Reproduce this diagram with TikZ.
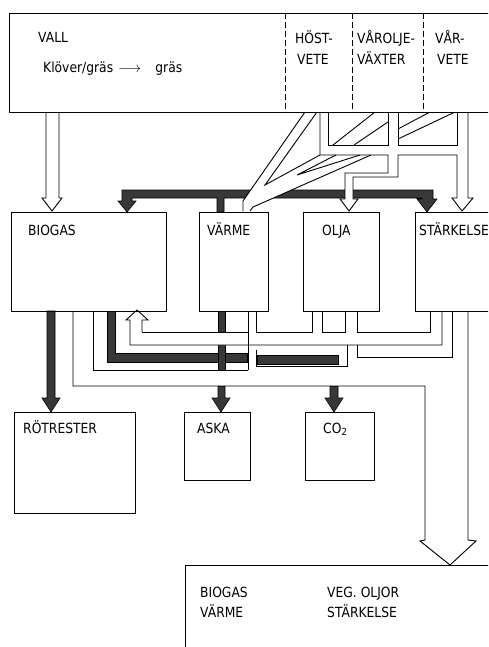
\documentclass[tikz,border=0pt]{standalone}
\usepackage{fontspec}
\setmainfont{DejaVu Sans}[FakeStretch=0.88]
\begin{document}
\begin{tikzpicture}[x=1pt,y=-1pt,
  bx/.style={draw=black,line width=0.9pt},
  ln/.style={draw=black,line width=0.9pt,line join=miter},
  blk/.style={fill=black!78,draw=black,line width=0.6pt},
  wf/.style={fill=white},
  lbl/.style={anchor=base west,inner sep=0pt,font=\fontsize{14}{16}\selectfont},
  dv/.style={draw=black,line width=0.9pt,dash pattern=on 6pt off 3pt}]
\useasboundingbox (0,0) rectangle (488,647);
\clip (0,0) rectangle (488,647);
\fill[white] (0,0) rectangle (488,647);

% ---------- black (heat / residue) pipes ----------
\filldraw[blk] (122,190)--(433,190)--(433,199)--(437,199)--(427,212)--(417,199)--(422,199)--(422,198)
  --(224,198)--(224,212)--(217,212)--(217,198)--(132,198)--(132,201)--(136,201)--(127,212)--(118,201)--(122,201)--cycle;
\filldraw[blk] (47,311)--(55,311)--(55,398)--(60,398)--(51,412)--(42,398)--(47,398)--cycle;
\filldraw[blk] (107,311)--(115,311)--(115,353)--(247,353)--(247,362)--(107,362)--cycle;
\filldraw[blk] (257,355)--(338,355)--(338,364)--(257,364)--cycle;
\filldraw[blk] (218,311)--(225,311)--(225,370)--(218,370)--cycle;
\filldraw[blk] (218,386)--(225,386)--(225,398)--(230,398)--(221,412)--(212,398)--(218,398)--cycle;
\filldraw[blk] (330,386)--(338,386)--(338,398)--(343,398)--(334,412)--(325,398)--(330,398)--cycle;

% ---------- hollow pipes: fills ----------
\fill[wf] (46,112)--(46,198)--(42,198)--(52,211)--(62,198)--(59,198)--(59,112)--cycle;
\fill[wf] (305,112)--(320,112)--(320,155)--(371,155)--(253,207)--(250,211)--(243,211)--(243,201)--cycle;
\fill[wf] (345,173)--(388,173)--(388,155)--(398,155)--(398,177)--(353,177)--(353,199)--(358,199)--(349,211)--(340,199)--(345,199)--cycle;
\fill[wf] (457,155)--(457,198)--(452,198)--(462,211)--(473,198)--(468,198)--(468,112)--(457,112)--cycle;
\fill[wf] (130,345)--(130,320)--(126,320)--(137,310)--(148,320)--(142,320)--(142,332)--(442,332)--(442,345)--cycle;
\fill[wf] (73,370)--(425,370)--(425,386)--(73,386)--cycle;

% ---------- hollow pipes: walls ----------
% VALL -> BIOGAS
\draw[ln] (46,112)--(46,198)--(42,198)--(52,211)--(62,198)--(59,198)--(59,112);
% fan of straw pipes into VAERME
\draw[ln] (305,112)--(243,201)--(243,211);
\draw[ln] (317,112)--(265,185)--(320,155);
\draw[ln] (336,155)--(297,175)--(360,155);
\draw[ln] (371,155)--(253,207)--(250,211);
% collector, OLJA and STAERKELSE feeds
\draw[ln] (320,112)--(320,155)--(388,155)--(388,173)--(345,173)--(345,199)--(340,199)--(349,211)--(358,199)--(353,199)
  --(353,177)--(398,177)--(398,155)--(457,155)--(457,198)--(452,198)--(462,211)--(473,198)--(468,198)--(468,112);
\draw[ln] (328,112)--(328,145)--(388,145)--(388,112);
\draw[ln] (398,112)--(398,145)--(457,145)--(457,112);
\draw[ln] (375,112)--(333,145);
\draw[ln] (388,122)--(354,145);
\draw[ln] (430,112)--(398,129);
\draw[ln] (455,112)--(398,139);
% return pipe into BIOGAS
\draw[ln] (142,332)--(142,320)--(148,320)--(137,310)--(126,320)--(130,320)--(130,345)--(442,345)--(442,311);
\draw[ln] (142,332)--(248,332);
\draw[ln] (248,311)--(248,370);
\draw[ln] (256,311)--(256,332)--(312,332)--(312,311);
\draw[ln] (322,311)--(322,332)--(345,332)--(345,311);
\draw[ln] (357,311)--(357,332)--(430,332)--(430,311);
\draw[ln] (256,350)--(256,366)--(347,366)--(347,345);
\draw[ln] (357,345)--(357,357)--(452,357)--(452,311);
% product pipe
\draw[ln] (93,311)--(93,370)--(248,370);
\draw[ln] (73,311)--(73,386)--(425,386)--(425,540)--(420,541)--(450,565)--(476,541)--(468,540)--(468,311);

% ---------- boxes ----------
\node[bx,fill=white,anchor=north west,minimum width=492pt,minimum height=99pt,inner sep=0pt] (vall) at (9,13) {};
\draw[dv] (285,13)--(285,112);
\draw[dv] (352,13)--(352,112);
\draw[dv] (423,13)--(423,112);
\node[bx,anchor=north west,minimum width=155pt,minimum height=99pt,inner sep=0pt] (biogas) at (11,212) {};
\node[bx,anchor=north west,minimum width=69pt,minimum height=99pt,inner sep=0pt] (varme) at (199,212) {};
\node[bx,anchor=north west,minimum width=76pt,minimum height=99pt,inner sep=0pt] (olja) at (303,212) {};
\node[bx,anchor=north west,minimum width=90pt,minimum height=99pt,inner sep=0pt] (stark) at (415,212) {};
\node[bx,anchor=north west,minimum width=121pt,minimum height=101pt,inner sep=0pt] (rot) at (14,412) {};
\node[bx,anchor=north west,minimum width=66pt,minimum height=68pt,inner sep=0pt] (aska) at (184,412) {};
\node[bx,anchor=north west,minimum width=69pt,minimum height=68pt,inner sep=0pt] (co2) at (305,412) {};
\node[bx,anchor=north west,minimum width=320pt,minimum height=100pt,inner sep=0pt] (prod) at (185,565) {};

% ---------- labels ----------
\node[lbl] (t1) at (38,43) {VALL};
\node[lbl] (t2) at (43,73) {Klöver/gräs\hspace{5pt}$\longrightarrow$\hspace{14pt}gräs};
\node[lbl] (t3) at (295,44) {HÖST-};
\node[lbl] (t4) at (297,65) {VETE};
\node[lbl] (t5) at (357,44) {VÅROLJE-};
\node[lbl] (t6) at (357,65) {VÄXTER};
\node[lbl] (t7) at (435,44) {VÅR-};
\node[lbl] (t8) at (437,65) {VETE};
\node[lbl] (t9) at (28,235) {BIOGAS};
\node[lbl] (t10) at (207,235) {VÄRME};
\node[lbl] (t11) at (322,235) {OLJA};
\node[lbl] (t12) at (419,235) {STÄRKELSE};
\node[lbl] (t13) at (23,433) {RÖTRESTER};
\node[lbl] (t14) at (197,433) {ASKA};
\node[lbl] (t15) at (323,433) {CO\textsubscript{2}};
\node[lbl] (t16) at (200,597) {BIOGAS};
\node[lbl] (t17) at (327,597) {VEG. OLJOR};
\node[lbl] (t18) at (200,617) {VÄRME};
\node[lbl] (t19) at (327,617) {STÄRKELSE};
\end{tikzpicture}
\end{document}
